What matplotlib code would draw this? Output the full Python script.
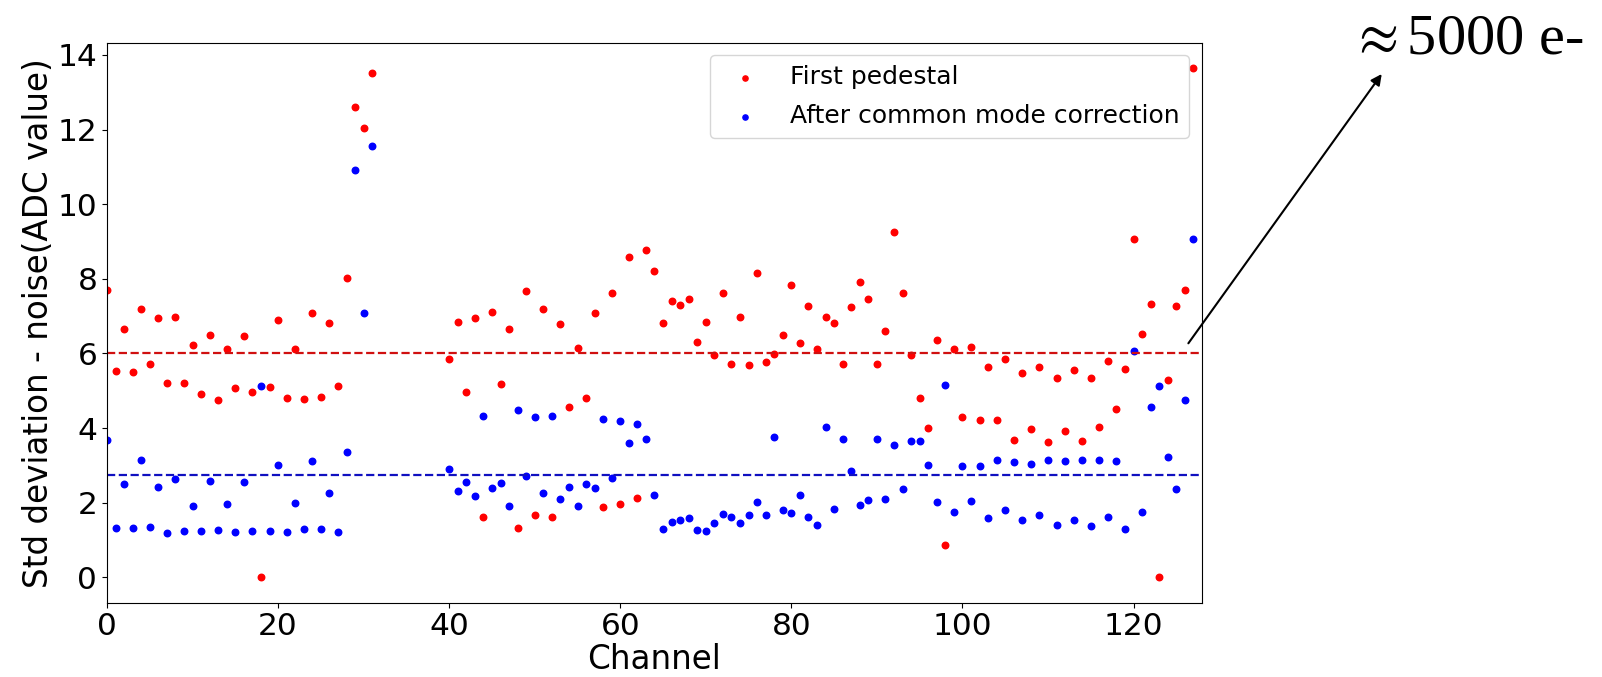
import numpy as np
import matplotlib
matplotlib.use("Agg")
import matplotlib.pyplot as plt

# channels read out (32-39 are not connected)
channels = list(range(0, 32)) + list(range(40, 128))

first_pedestal = [
    7.71, 5.54, 6.65, 5.51, 7.18, 5.72, 6.94, 5.22, 6.98, 5.22,
    6.22, 4.92, 6.50, 4.74, 6.12, 5.07, 6.48, 4.96, 0.00, 5.10,
    6.89, 4.81, 6.12, 4.78, 7.09, 4.83, 6.82, 5.13, 8.03, 12.60,
    12.04, 13.51,
    5.86, 6.85, 4.98, 6.94, 1.61, 7.12, 5.19, 6.65, 1.31, 7.67,
    1.67, 7.18, 1.61, 6.80, 4.57, 6.15, 4.81, 7.09, 1.88, 7.61,
    1.96, 8.58, 2.14, 8.76, 8.21, 6.82, 7.41, 7.30, 7.45, 6.30,
    6.85, 5.96, 7.61, 5.73, 6.98, 5.68, 8.17, 5.77, 5.98, 6.50,
    7.83, 6.27, 7.27, 6.12, 6.98, 6.82, 5.73, 7.24, 7.91, 7.47,
    5.72, 6.60, 9.26, 7.61, 5.96, 4.81, 4.01, 6.35, 0.88, 6.12,
    4.30, 6.18, 4.22, 5.65, 4.22, 5.86, 3.69, 5.48, 3.98, 5.65,
    3.63, 5.33, 3.92, 5.56, 3.66, 5.33, 4.04, 5.80, 4.51, 5.59,
    9.08, 6.53, 7.33, 0.00, 5.30, 7.27, 7.70, 13.65,
]

after_cm = [
    3.69, 1.31, 2.49, 1.31, 3.14, 1.35, 2.43, 1.20, 2.63, 1.23,
    1.91, 1.23, 2.57, 1.26, 1.96, 1.21, 2.55, 1.23, 5.13, 1.23,
    3.02, 1.21, 1.99, 1.29, 3.11, 1.29, 2.26, 1.21, 3.37, 10.93,
    7.09, 11.57,
    2.90, 2.31, 2.55, 2.17, 4.33, 2.40, 2.52, 1.90, 4.48, 2.72,
    4.31, 2.26, 4.33, 2.11, 2.43, 1.90, 2.49, 2.40, 4.24, 2.66,
    4.19, 3.60, 4.10, 3.72, 2.22, 1.29, 1.49, 1.53, 1.58, 1.26,
    1.23, 1.46, 1.70, 1.61, 1.46, 1.67, 2.02, 1.67, 3.75, 1.81,
    1.72, 2.20, 1.63, 1.40, 4.04, 1.84, 3.72, 2.84, 1.93, 2.07,
    3.72, 2.11, 3.55, 2.38, 3.66, 3.66, 3.02, 2.02, 5.15, 1.76,
    2.99, 2.05, 2.99, 1.58, 3.14, 1.81, 3.08, 1.55, 3.05, 1.67,
    3.14, 1.41, 3.11, 1.55, 3.14, 1.37, 3.14, 1.61, 3.11, 1.29,
    6.07, 1.76, 4.57, 5.13, 3.22, 2.38, 4.74, 9.08,
]

mean_first = 6.0
mean_after = 2.74

fig = plt.figure(figsize=(16.02, 6.77), dpi=100)
ax = fig.add_axes([0.0668, 0.1097, 0.6835, 0.8273])

ax.scatter(channels, first_pedestal, s=22, color="red", label="First pedestal")
ax.scatter(channels, after_cm, s=22, color="blue", label="After common mode correction")
ax.axhline(mean_first, color="#d01010", ls="--", lw=1.6)
ax.axhline(mean_after, color="#1010c0", ls="--", lw=1.6)

ax.set_xlim(0, 128)
ax.set_ylim(-0.68, 14.33)
ax.set_xticks(range(0, 121, 20))
ax.set_yticks(range(0, 15, 2))
ax.tick_params(labelsize=22.5)
ax.set_xlabel("Channel", fontsize=23.5, labelpad=1)
ax.set_ylabel("Std deviation - noise(ADC value)", fontsize=23.5, labelpad=2)
ax.legend(loc="upper right", fontsize=18, markerscale=0.8, labelspacing=0.6)

# electron-equivalent of the mean raw noise level
plt.rcParams["mathtext.fontset"] = "stix"
fig.text(0.8425, 0.9217, r"$\approx$5000 e-", fontsize=42,
         family="Liberation Serif", ha="left", va="baseline")
ax.annotate("", xy=(0.8625, 0.8907), xycoords="figure fraction",
            xytext=(0.7418, 0.4929), textcoords="figure fraction",
            arrowprops=dict(arrowstyle="-|>", color="black", lw=1.5,
                            mutation_scale=16, shrinkA=0, shrinkB=0),
            annotation_clip=False)

fig.savefig("out.png", dpi=100)
